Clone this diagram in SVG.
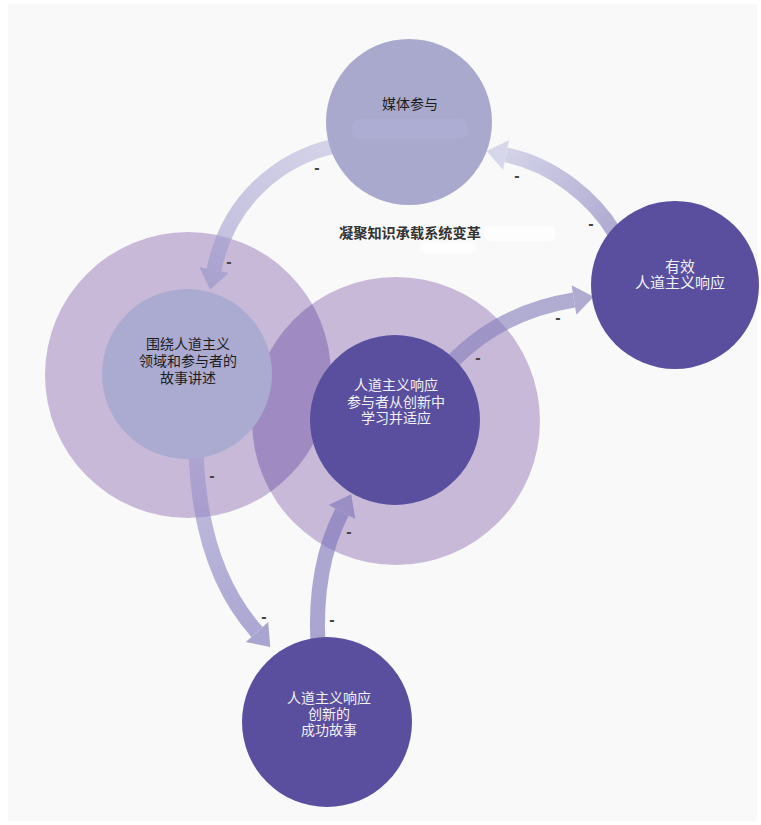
<svg xmlns="http://www.w3.org/2000/svg" width="761" height="825" viewBox="0 0 761 825">
  <style>
    .lbl { font-family: "Liberation Sans", "Noto Sans CJK SC", sans-serif; font-size: 14px; text-anchor: middle; }
    .dark { fill: #1c1c1c; }
    .light { fill: #f2f2f2; }
    .title { font-family: "Liberation Sans", "Noto Sans CJK SC", sans-serif; font-size: 14.2px; font-weight: bold; fill: #333333; text-anchor: middle; }
    .halo { fill: #c8b9d9; }
    .node-light { fill: #a9a9cd; }
    .node-mid { fill: #abaad1; }
    .node-dark { fill: #5a4f9e; }
    .shaft { fill: none; stroke-width: 15; }
    .sign { font-family: "Liberation Sans", sans-serif; font-size: 16px; font-weight: bold; fill: #444444; text-anchor: middle; }
  </style>
  <defs>
    <clipPath id="leftHaloClip">
      <circle cx="188" cy="375" r="143"/>
    </clipPath>
    <linearGradient id="g1" gradientUnits="userSpaceOnUse" x1="335" y1="146" x2="212" y2="288">
      <stop offset="0" stop-color="#bbb9dc"/>
      <stop offset="1" stop-color="#9794ca"/>
    </linearGradient>
    <linearGradient id="g2" gradientUnits="userSpaceOnUse" x1="614" y1="232" x2="488" y2="150">
      <stop offset="0" stop-color="#7f78b8"/>
      <stop offset="1" stop-color="#c2c2e3"/>
    </linearGradient>
    <linearGradient id="g3" gradientUnits="userSpaceOnUse" x1="452" y1="362" x2="594" y2="297">
      <stop offset="0" stop-color="#847dbb"/>
      <stop offset="1" stop-color="#7f78b8"/>
    </linearGradient>
    <linearGradient id="g4" gradientUnits="userSpaceOnUse" x1="196" y1="450" x2="270" y2="647">
      <stop offset="0" stop-color="#9d98cd"/>
      <stop offset="1" stop-color="#756fb8"/>
    </linearGradient>
    <linearGradient id="g5" gradientUnits="userSpaceOnUse" x1="318" y1="645" x2="351" y2="494">
      <stop offset="0" stop-color="#756fb6"/>
      <stop offset="1" stop-color="#7a74b9"/>
    </linearGradient>
  </defs>

  <!-- page -->
  <rect x="0" y="0" width="761" height="825" fill="#ffffff"/>
  <rect x="8" y="4" width="749" height="817" fill="#f9f9f9"/>

  <!-- halos behind the two central nodes -->
  <g id="halos">
    <circle class="halo" cx="188" cy="375" r="143"/>
    <circle class="halo" cx="396" cy="421" r="144"/>
    <circle cx="396" cy="421" r="144" fill="#9f8bc1" clip-path="url(#leftHaloClip)"/>
  </g>

  <!-- soft patches -->
  <rect x="484" y="226" width="72" height="15" rx="7" fill="#ffffff" opacity="0.7"/>
  <rect x="420" y="243" width="56" height="10" rx="5" fill="#ffffff" opacity="0.7"/>

  <!-- connectors -->
  <g id="connectors">
    <g opacity="0.6">
      <path class="shaft" stroke="url(#g1)" d="M 335 146 C 280 158 228 200 214 270"/>
      <polygon fill="#9794ca" points="228.7,272.9 199.3,267.1 210.1,289.6"/>
    </g>
    <g opacity="0.6">
      <path class="shaft" stroke="url(#g2)" d="M 614 232 C 595 200 555 165 506 155"/>
      <polygon fill="#c2c2e3" points="509,140.3 503,169.7 486.4,151"/>
    </g>
    <g opacity="0.6">
      <path class="shaft" stroke="url(#g3)" d="M 452 362 Q 500 312 574 300"/>
      <polygon fill="#7f78b8" points="576.4,314.8 571.6,285.2 593.7,296.8"/>
    </g>
    <g opacity="0.6">
      <path class="shaft" stroke="url(#g4)" d="M 196 450 C 198 520 215 585 257 632"/>
      <polygon fill="#756fb8" points="245.8,642 268.2,622 270.3,646.9"/>
    </g>
    <g opacity="0.6">
      <path class="shaft" stroke="url(#g5)" d="M 318 645 C 315 590 325 545 342 512"/>
      <polygon fill="#7a74b9" points="355.3,518.9 328.7,505.1 351.2,494.2"/>
    </g>
    <text class="sign" x="317" y="173">-</text>
    <text class="sign" x="229" y="267">-</text>
    <text class="sign" x="517" y="181">-</text>
    <text class="sign" x="591" y="229">-</text>
    <text class="sign" x="558" y="323">-</text>
    <text class="sign" x="478" y="363">-</text>
    <text class="sign" x="212" y="481">-</text>
    <text class="sign" x="264" y="622">-</text>
    <text class="sign" x="349" y="537">-</text>
    <text class="sign" x="332" y="625">-</text>
  </g>

  <!-- nodes -->
  <g id="node-media">
    <circle class="node-light" cx="409" cy="122" r="83"/>
    <rect x="352" y="119" width="116" height="20" rx="8" fill="#adadd3"/>
    <text class="lbl dark" x="410" y="108.5">媒体参与</text>
  </g>

  <g id="node-effective">
    <circle class="node-dark" cx="675" cy="285" r="84"/>
    <text class="lbl light" style="font-size:15px"><tspan x="680" y="271.5">有效</tspan><tspan x="680" y="287.5">人道主义响应</tspan></text>
  </g>

  <g id="node-storytelling">
    <circle class="node-mid" cx="187" cy="374" r="85"/>
    <text class="lbl dark"><tspan x="188" y="348.5">围绕人道主义</tspan><tspan x="188" y="365.5">领域和参与者的</tspan><tspan x="188" y="382.5">故事讲述</tspan></text>
  </g>

  <g id="node-learning">
    <circle class="node-dark" cx="395" cy="420" r="85"/>
    <text class="lbl light"><tspan x="396" y="390">人道主义响应</tspan><tspan x="396" y="406.5">参与者从创新中</tspan><tspan x="396" y="423">学习并适应</tspan></text>
  </g>

  <g id="node-success">
    <circle class="node-dark" cx="327" cy="722" r="85"/>
    <text class="lbl light"><tspan x="329" y="703">人道主义响应</tspan><tspan x="329" y="719">创新的</tspan><tspan x="329" y="735">成功故事</tspan></text>
  </g>

  <g id="title">
    <text class="title" x="410" y="237.5">凝聚知识承载系统变革</text>
  </g>
</svg>
